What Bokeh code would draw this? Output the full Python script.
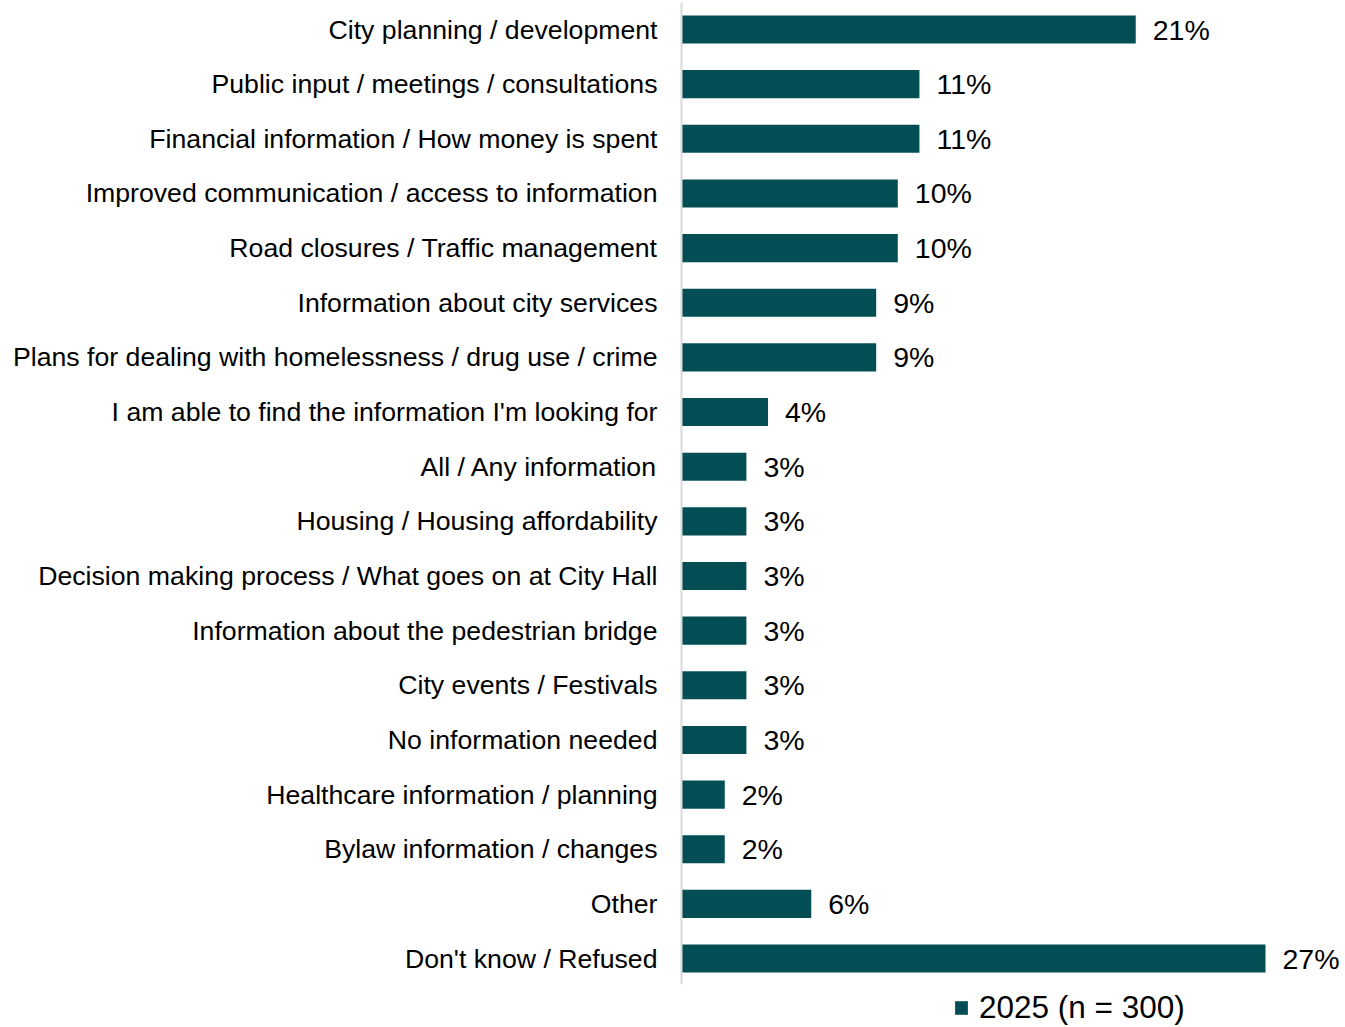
from bokeh.plotting import figure
from bokeh.models import ColumnDataSource, Range1d, LabelSet, Legend, LegendItem, FixedTicker
from bokeh.core.properties import value
from bokeh.embed import file_html
from bokeh.resources import INLINE

categories = [
    "City planning / development",
    "Public input / meetings / consultations",
    "Financial information / How money is spent",
    "Improved communication / access to information",
    "Road closures / Traffic management",
    "Information about city services",
    "Plans for dealing with homelessness / drug use / crime",
    "I am able to find the information I'm looking for",
    "All / Any information",
    "Housing / Housing affordability",
    "Decision making process / What goes on at City Hall",
    "Information about the pedestrian bridge",
    "City events / Festivals",
    "No information needed",
    "Healthcare information / planning",
    "Bylaw information / changes",
    "Other",
    "Don't know / Refused",
]
values = [21, 11, 11, 10, 10, 9, 9, 4, 3, 3, 3, 3, 3, 3, 2, 2, 6, 27]
series_name = "2025 (n = 300)"

FONT = "Liberation Sans"
BAR = "#034E54"

positions = list(range(len(categories)))
src = ColumnDataSource(dict(
    pos=positions,
    val=values,
    lbl=[f"{v}%" for v in values],
))

W, H = 1345, 1027
LEFT = 681
PXU = 54.65   # px per category row
TOP_C = 29    # centre of first row, px from top
PXX = 21.63   # px per percent
p = figure(
    width=W, height=H,
    y_range=Range1d(start=(H - TOP_C) / PXU, end=-TOP_C / PXU),
    x_range=Range1d(0, (W - LEFT) / PXX),
    output_backend="svg", toolbar_location=None,
    min_border_left=LEFT, min_border_right=0, min_border_top=0,
    min_border_bottom=0,
)
p.outline_line_color = None
p.xgrid.visible = False
p.ygrid.visible = False
p.xaxis.visible = False

r = p.hbar(y="pos", right="val", left=0, height=0.515, source=src,
           fill_color=BAR, line_color=None)

labels = LabelSet(x="val", y="pos", text="lbl", source=src, x_offset=17, y_offset=0,
                  text_baseline="middle", text_align="left",
                  text_font=value(FONT), text_font_size=value("28.5px"), text_color="black")
p.add_layout(labels)

ya = p.yaxis[0]
ya.ticker = FixedTicker(ticks=positions)
ya.major_label_overrides = {i: c for i, c in zip(positions, categories)}
ya.bounds = ((2 - TOP_C) / PXU, (984 - TOP_C) / PXU)
ya.axis_line_color = "#D9D9D9"
ya.axis_line_width = 2
ya.major_tick_line_color = None
ya.minor_tick_line_color = None
ya.major_label_standoff = 18
ya.major_label_text_font = FONT
ya.major_label_text_font_size = "26.67px"
ya.major_label_text_color = "black"

legend = Legend(items=[LegendItem(label=series_name, renderers=[r])],
                location=(272, 1), orientation="horizontal",
                padding=0, margin=0, spacing=0,
                glyph_width=16, glyph_height=17, label_standoff=10,
                label_text_font=FONT, label_text_font_size="31.5px",
                label_text_color="black", label_height=30,
                border_line_color=None, background_fill_alpha=0)
p.add_layout(legend, "center")

open("out.html", "w").write(file_html(p, INLINE))
